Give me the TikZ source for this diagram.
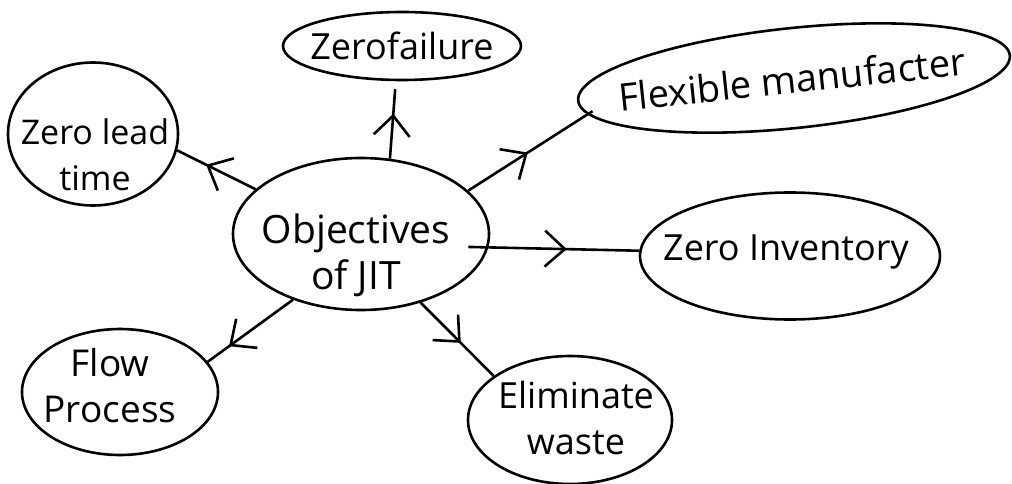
\documentclass[tikz,border=0pt]{standalone}
\usepackage{fontspec}
\setmainfont{Open Sans}
\usetikzlibrary{shapes.geometric,arrows.meta,decorations.markings}
\begin{document}
\begin{tikzpicture}[x=1pt,y=-1pt,
  bubble/.style={draw, ellipse, line width=2.6pt, inner sep=0pt},
  lbl/.style={font=\fontsize{#1}{46}\selectfont, align=center, inner sep=0pt},
  lbl/.default=38,
  link/.style={line width=2.6pt, postaction={decorate},
    decoration={markings, mark=at position #1 with {\arrow{Straight Barb[length=20pt,width=36pt]}}}},
]
\path[use as bounding box] (0,0) rectangle (1012,484);
% bubbles
\node[bubble, minimum width=256pt, minimum height=152pt] (obj) at (361,234) {};
\node[lbl=39] (objt) at (356,255) {Objectives\\of JIT};
\node[bubble, minimum width=170pt, minimum height=143pt] (lead) at (93,134) {};
\node[lbl=34] (leadt) at (95,155) {Zero lead\\time};
\node[bubble, minimum width=238pt, minimum height=68pt] (fail) at (402,46) {};
\node[lbl=36] (failt) at (402,46) {Zerofailure};
\node[bubble, minimum width=434pt, minimum height=100pt, rotate=6] (flex) at (794,78) {};
\node[lbl=38, rotate=6] (flext) at (792,79) {Flexible manufacter};
\node[bubble, minimum width=300pt, minimum height=127pt] (inv) at (790,256) {};
\node[lbl=36] (invt) at (786,252) {Zero Inventory};
\node[bubble, minimum width=196pt, minimum height=126pt] (flow) at (120,392) {};
\node[lbl=37] (flowt) at (110,386) {Flow\\Process};
\node[bubble, minimum width=204pt, minimum height=128pt] (elim) at (570,420) {};
\node[lbl=36] (elimt) at (576,418) {Eliminate\\waste};
% connectors
\draw[link=0.63] (obj.157) -- (lead.-11);
\draw[link=0.58, shorten >=8pt] (obj.69) -- (fail.-100);
\draw[link=0.5, shorten >=-6pt] (obj.22) -- (flex.184);
\draw[link=0.52, shorten <=-20pt] (obj.-6) -- (inv.178);
\draw[link=0.75] (obj.224) -- (flow.19);
\draw[link=0.55] (obj.-49) -- (elim.150);
\end{tikzpicture}
\end{document}
